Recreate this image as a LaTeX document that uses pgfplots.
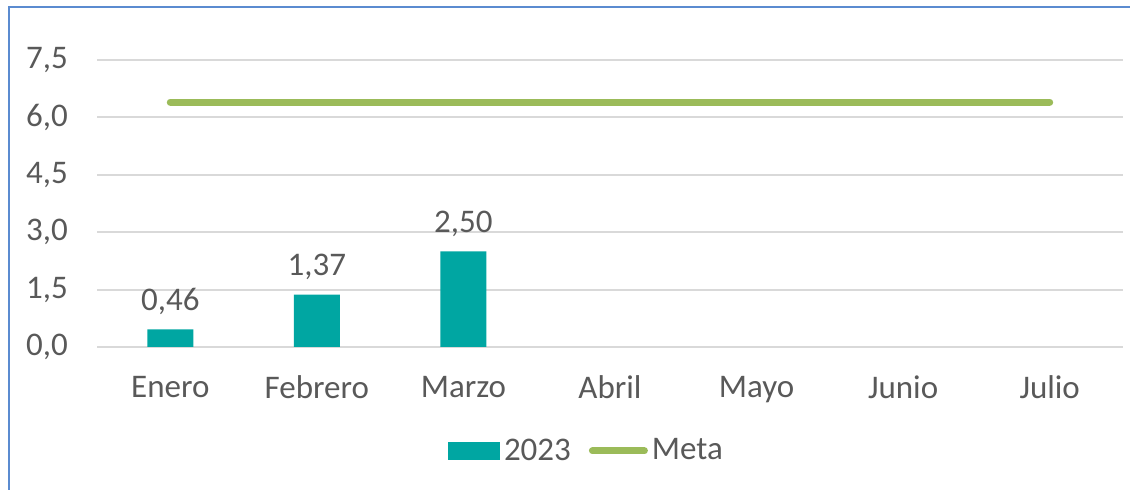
\documentclass[border=0pt]{standalone}
\usepackage{pgfplots}
\pgfplotsset{compat=1.18}
\usepackage{fontspec}
\setmainfont{Carlito}
\definecolor{barteal}{HTML}{00A6A2}
\definecolor{metagreen}{HTML}{9BBB59}
\definecolor{txtgray}{HTML}{595959}
\definecolor{gridgray}{HTML}{D9D9D9}
\definecolor{framblue}{HTML}{5B8BD0}
\begin{document}
\begin{tikzpicture}[x=1pt,y=1pt]
\path[use as bounding box] (0,0) rectangle (565,245);
\draw[framblue, line width=1pt] (4.5,0) -- (4.5,241.5) -- (566,241.5);
\begin{axis}[
  at={(48.5pt,71.5pt)}, anchor=south west,
  scale only axis, width=513pt, height=143.5pt,
  xmin=-0.5, xmax=6.5, ymin=0, ymax=7.5,
  axis line style={draw=none},
  ytick={0,1.5,3,4.5,6,7.5},
  ymajorgrids, grid style={gridgray, line width=1pt},
  major tick length=0pt, tick style={draw=none},
  xtick={0,1,2,3,4,5,6},
  xticklabels={Enero,Febrero,Marzo,Abril,Mayo,Junio,Julio},
  font=\fontsize{16.5}{19}\selectfont,
  tick label style={font=\fontsize{16.5}{19}\selectfont, text=txtgray},
  yticklabel style={/tikz/xshift=-11pt, /pgf/number format/.cd, use comma, fixed, fixed zerofill, precision=1, assume math mode=true},
  xticklabel style={yshift=-11pt},
  legend style={at={(0.478,-0.362)}, anchor=center, draw=none, fill=none,
    legend columns=2, font=\fontsize{16.5}{19}\selectfont, text=txtgray,
    /tikz/every even column/.append style={column sep=7pt}},
]
\addplot[ybar, bar width=23pt, fill=barteal, draw=none,
  nodes near coords,
  nodes near coords style={font=\fontsize{16.5}{19}\selectfont, text=txtgray, yshift=4pt,
    /pgf/number format/.cd, use comma, fixed, fixed zerofill, precision=2, assume math mode=true},
  legend image code/.code={\fill[barteal] (0pt,-4.5pt) rectangle (26pt,4.5pt);}]
  coordinates {(0,0.46) (1,1.37) (2,2.50)};
\addlegendentry{2023}
\addplot[metagreen, line width=3.5pt, line cap=round, mark=none,
  legend image code/.code={\draw[metagreen, line width=3.5pt, line cap=round] (2pt,0pt) -- (28pt,0pt);}]
  coordinates {(0,6.4) (6,6.4)};
\addlegendentry{Meta}
\end{axis}
\end{tikzpicture}
\end{document}
